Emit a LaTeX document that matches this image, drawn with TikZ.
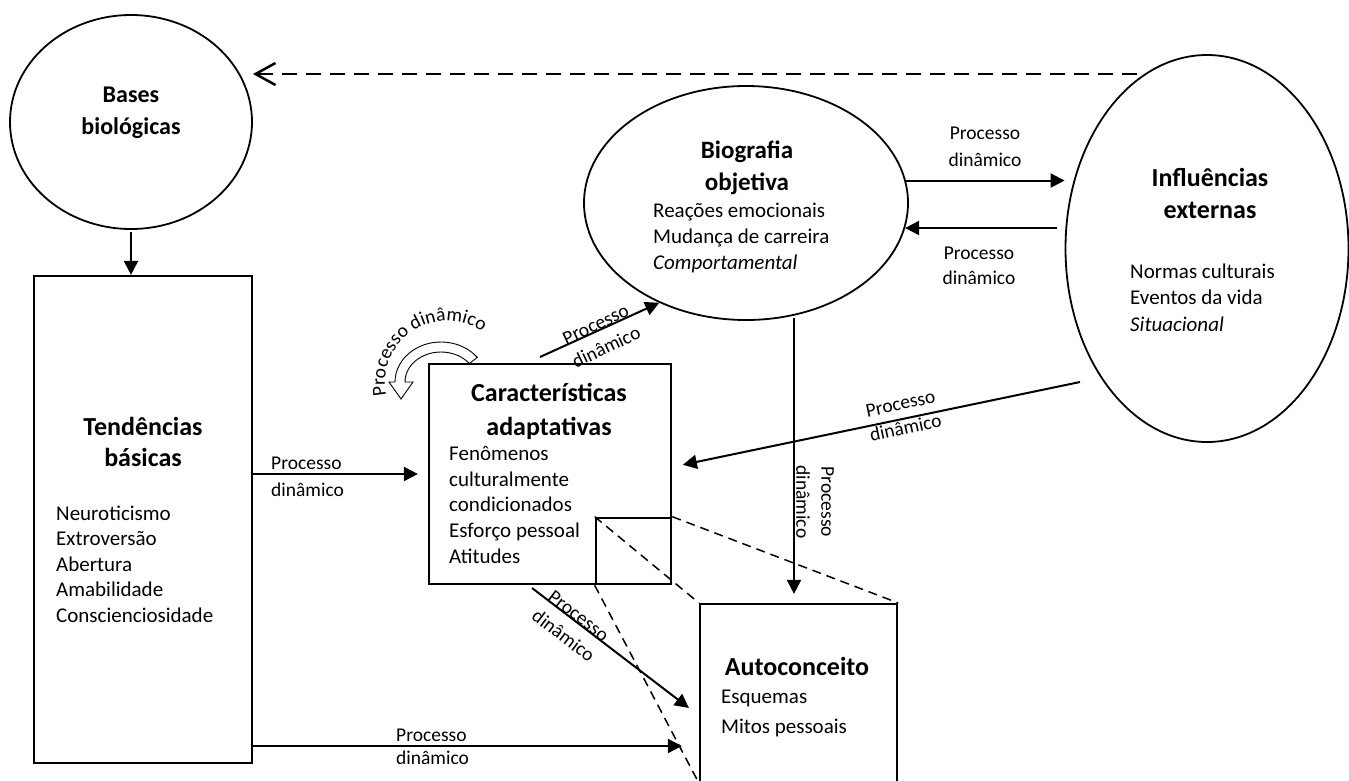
\documentclass[tikz,border=0pt]{standalone}
\usepackage{fontspec}
\setmainfont{Carlito}
\usetikzlibrary{arrows.meta,shapes.geometric,decorations.text,calc}
\newcommand{\myfs}[2]{\fontsize{#1}{#2}\selectfont}
\begin{document}
\begin{tikzpicture}[x=1pt,y=-1pt,
  ell/.style={draw, ellipse, line width=1.8pt, inner sep=0pt},
  box/.style={draw, rectangle, line width=2.2pt, inner sep=0pt},
  arr/.style={line width=2pt, -{Triangle[length=14pt,width=14pt]}},
  zoomline/.style={line width=1.5pt, dash pattern=on 9pt off 6pt},
  ttl/.style={font=\myfs{26}{32}\bfseries, anchor=base, inner sep=0pt},
  txt/.style={font=\myfs{21}{25}, anchor=base west, inner sep=0pt},
  lbl/.style={font=\myfs{19.5}{25}, inner sep=0pt},
]
\fill[white, use as bounding box] (0,0) rectangle (1349,780);
\clip (0,0) rectangle (1349,780);

% ---- shapes ----
\node[ell, minimum width=242pt, minimum height=214pt] (bases) at (131,122) {};
\node[box, minimum width=218pt, minimum height=487pt] (tend) at (143,519.5) {};
\node[box, minimum width=242pt, minimum height=220pt] (car) at (550,474) {};
\node[box, line width=2.6pt, minimum width=75pt, minimum height=66pt] (small) at (633.5,551) {};
\node[box, minimum width=197pt, minimum height=178pt] (auto) at (798.5,693) {};
\node[ell, minimum width=324pt, minimum height=234pt] (bio) at (746,203) {};
\node[ell, minimum width=283pt, minimum height=387pt] (infl) at (1207,248.5) {};

% ---- texts ----
\node[ttl, font=\myfs{24}{32}\bfseries] (basesT1) at (131,102) {Bases};
\node[ttl, font=\myfs{24}{32}\bfseries] (basesT2) at (131,134) {biológicas};

\node[ttl] (tendT1) at (143,435) {Tendências};
\node[ttl] (tendT2) at (143,466) {básicas};
\node[txt] (tendL1) at (56,520) {Neuroticismo};
\node[txt] (tendL2) at (56,545.5) {Extroversão};
\node[txt] (tendL3) at (56,571) {Abertura};
\node[txt] (tendL4) at (56,596.5) {Amabilidade};
\node[txt] (tendL5) at (56,622) {Conscienciosidade};

\node[ttl] (carT1) at (549,401) {Características};
\node[ttl] (carT2) at (549,435) {adaptativas};
\node[txt] (carL1) at (449,460) {Fenômenos};
\node[txt] (carL2) at (449,486) {culturalmente};
\node[txt] (carL3) at (449,511.5) {condicionados};
\node[txt] (carL4) at (449,537) {Esforço pessoal};
\node[txt] (carL5) at (449,563) {Atitudes};

\node[ttl] (autoT) at (797,675) {Autoconceito};
\node[txt] (autoL1) at (721,703) {Esquemas};
\node[txt] (autoL2) at (721,733) {Mitos pessoais};

\node[ttl, font=\myfs{25}{32}\bfseries] (bioT1) at (747,158) {Biografia};
\node[ttl, font=\myfs{25}{32}\bfseries] (bioT2) at (747,190) {objetiva};
\node[txt] (bioL1) at (653,217) {Reações emocionais};
\node[txt] (bioL2) at (653,243) {Mudança de carreira};
\node[txt] (bioL3) at (653,269) {\itshape Comportamental};

\node[ttl] (inflT1) at (1210,186) {Influências};
\node[ttl] (inflT2) at (1210,218) {externas};
\node[txt] (inflL1) at (1130,278) {Normas culturais};
\node[txt] (inflL2) at (1130,304) {Eventos da vida};
\node[txt] (inflL3) at (1130,331) {\itshape Situacional};

% ---- connectors ----
\coordinate (dstart) at (1137,74);
\draw[line width=2.5pt, dash pattern=on 15pt off 9pt,
      -{Straight Barb[length=20pt,width=22pt]}] (dstart) -- (dstart -| bases.east);

\draw[arr, shorten <=2pt] (bases.south) -- (bases.south |- tend.north);

\draw[arr, shorten >=10pt] (tend.east |- car.west) -- (car.west);
\node[lbl, anchor=base west] (l1a) at (271,469.5) {Processo};
\node[lbl, anchor=base west] (l1b) at (271,496) {dinâmico};

\coordinate (cb) at (540,357);
\draw[arr] (cb) -- (bio.229);
\node[lbl, align=center, rotate=25] (l2) at (601,336) {Processo\\dinâmico};

\draw[arr] (bio.8) -- (bio.8 -| infl.west);
\node[lbl, anchor=base] (l3a) at (985,139) {Processo};
\node[lbl, anchor=base] (l3b) at (985,166) {dinâmico};

\coordinate (ib) at (1057,228);
\draw[arr] (ib) -- (ib -| bio.351);
\node[lbl, anchor=base] (l4a) at (979,259) {Processo};
\node[lbl, anchor=base] (l4b) at (979,284) {dinâmico};

\coordinate (ic) at (1080,382);
\draw[arr, shorten >=11pt] (ic) -- ([yshift=7pt]car.east);
\node[lbl, align=center, rotate=12] (l5) at (903,416) {Processo\\dinâmico};

\coordinate (vt) at (794,318);
\draw[arr, shorten >=9pt] (vt) -- (vt |- auto.north);
\node[lbl, align=center, rotate=-90] (l6) at (815,502) {Processo\\dinâmico};

\coordinate (ca) at (532,588);
\draw[arr, shorten >=12.6pt] (ca) -- ([yshift=-22.6pt]auto.west);
\node[lbl, align=center, rotate=-37.2] (l7) at (571,626) {Processo\\dinâmico};

\coordinate (bt) at (252,746);
\draw[arr, shorten >=17pt] (bt) -- (bt -| auto.west);
\node[lbl, anchor=base west] (l8a) at (396,741) {Processo};
\node[lbl, anchor=base west] (l8b) at (396,764) {dinâmico};

% zoom lines
\draw[zoomline] (small.north west) -- (auto.north west);
\draw[zoomline] (small.north east) -- (auto.north east);
\draw[zoomline] (small.south west) -- (auto.south west);

% self loop arrow
\draw[line width=0.9pt, fill=white] (441,382) ++(-38:46 and 40)
  arc[start angle=-38, end angle=-180, x radius=46, y radius=40]
  -- (389,382) -- (401,399) -- (413,382) -- (405,382)
  arc[start angle=-180, end angle=-38, x radius=36, y radius=30] -- cycle;
\path[decorate, decoration={text along path,
   text={|\myfs{19.5}{20}|Processo dinâmico}, text align=left}]
  (447,383) ++(-192:62) arc[start angle=-192, end angle=-25, radius=62];
\end{tikzpicture}
\end{document}
